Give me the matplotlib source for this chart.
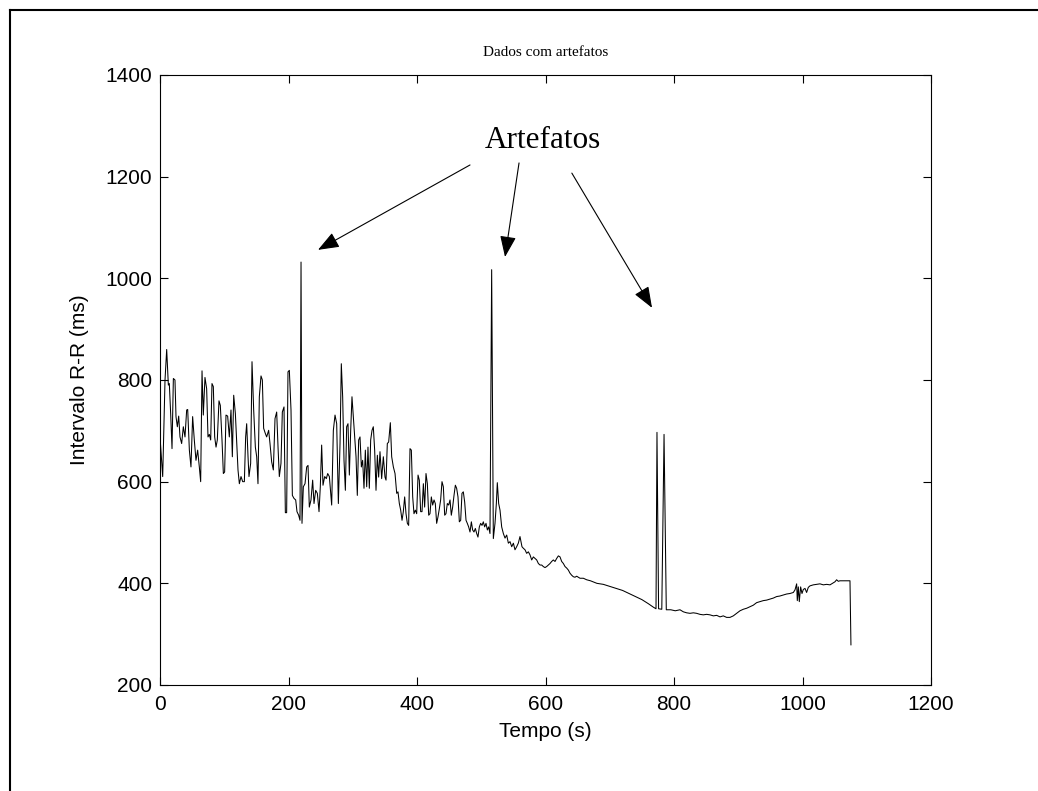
import numpy as np
import matplotlib
matplotlib.use('Agg')
import matplotlib.pyplot as plt
from matplotlib.lines import Line2D

plt.rcParams['font.family'] = ['Liberation Sans', 'DejaVu Sans']

# série R-R (tempo em s, intervalo em ms), lida por trechos
t_a = [0, 4.2, 7.8, 10.4, 13.0, 14.5, 16.6, 18.7, 20.8, 23.3, 24.9, 27.0, 29.1, 31.1, 33.7,
       36.3, 38.9, 41.5, 43.1, 45.7, 48.2, 50.8, 53.4, 56.0, 58.6, 61.2, 63.3, 65.4, 67.4,
       70.0, 72.6, 74.7, 76.8, 78.9, 80.9, 83.0, 85.1, 87.2, 89.2, 91.8, 93.9, 96.5, 98.6,
       100.6, 102.7, 105.3, 107.9, 110.5, 112.6, 114.7, 117.3, 119.3, 121.4, 123.5, 126.1,
       128.7, 131.3, 133.3, 134.9, 137.0, 138.5, 141.1, 143.2, 145.8, 148.4, 150.5, 152.5,
       154.6, 157.2, 159.3, 161.3, 163.9, 166.0, 169.1, 171.2, 173.8, 176.4, 179.0, 181.6,
       183.7, 185.7, 188.3, 190.4, 193.0, 195.1, 197.1, 199.2, 201.3, 203.9, 206.0, 208.6,
       211.2, 213.2, 215.8, 217.9, 219.5, 221.0, 223.1, 225.7, 228.3, 230.4, 232.4, 235.0,
       237.6, 239.7, 242.3, 244.9, 247.5, 249.5, 251.6, 253.7, 256.3, 258.9, 261.0, 263.6]
rr_a = [688, 610, 800, 860, 790, 793, 734, 665, 803, 800, 728, 708, 729, 688, 675,
        708, 688, 741, 742, 662, 629, 728, 682, 642, 662, 629, 600, 818, 731,
        805, 783, 688, 693, 682, 793, 787, 688, 668, 682, 759, 750, 682, 616,
        619, 731, 729, 688, 741, 649, 770, 734, 682, 623, 596, 610,
        600, 600, 688, 714, 649, 610, 636, 836, 741, 668, 649, 596,
        767, 808, 800, 705, 695, 688, 701, 675, 639, 623, 724, 737,
        668, 610, 636, 737, 747, 539, 539, 816, 819, 741, 573, 567,
        564, 541, 534, 524, 1032, 518, 590, 596, 629, 632, 550, 564,
        603, 557, 583, 577, 541, 590, 672, 593, 610, 606, 616, 610]

t_b = [267.2, 269.8, 272.4, 275.0, 277.6, 280.2, 282.2, 284.3, 286.4, 288.5, 290.5, 292.6,
       294.7, 296.8, 298.8, 300.9, 303.0, 305.1, 307.1, 309.2, 311.3, 313.4, 315.4, 317.5,
       319.6, 321.7, 323.7, 325.8, 327.9, 330.0, 332.0, 334.1, 336.2, 338.3, 340.3, 342.4,
       345.0, 347.6, 350.2, 351.8, 353.8, 355.9, 358.5, 360.6, 363.2, 365.8, 368.4, 370.4,
       372.5, 374.6, 376.7, 378.7, 380.8, 382.9, 385.0, 387.0, 389.1, 391.2, 393.3, 395.3,
       397.4, 399.5, 401.6, 403.6, 405.7, 407.8, 409.9, 411.9, 414.0, 416.1, 418.2, 420.2,
       422.3, 424.4, 426.5, 428.5, 430.6, 432.7, 434.8, 436.8, 438.9, 441.0, 443.1, 445.1,
       447.2, 449.3, 451.4, 453.4, 455.5, 457.6, 459.7, 461.7, 463.8, 465.9, 468.0, 470.0,
       472.1, 474.2, 476.3, 478.3, 480.4, 482.5, 484.6, 486.6, 488.7, 490.8, 492.9, 494.9,
       497.0, 499.1, 501.2, 503.2, 505.3, 507.4, 509.5, 511.5, 513.6, 516.2, 518.8, 521.4,
       523.5, 525.0, 527.1, 529.2]
rr_b = [554, 701, 731, 714, 557, 675, 832, 767, 642, 583, 708, 714,
        613, 701, 767, 728, 688, 649, 573, 682, 688, 629, 642, 587,
        662, 590, 668, 587, 682, 701, 708, 662, 583, 652, 609, 659,
        606, 649, 609, 603, 675, 678, 716, 649, 629, 616, 577, 580,
        557, 544, 524, 541, 570, 537, 518, 514, 665, 662, 570, 537,
        544, 537, 613, 603, 541, 541, 596, 550, 616, 596, 534, 537,
        570, 554, 564, 557, 518, 531, 547, 564, 600, 590, 534, 537,
        557, 554, 564, 534, 550, 573, 593, 587, 570, 521, 524, 577,
        580, 560, 524, 518, 511, 501, 521, 505, 501, 508, 498, 491,
        511, 518, 514, 521, 511, 518, 505, 511, 498, 1017, 488, 518,
        557, 598, 557, 544]

t_c = [531.8, 534.4, 537.0, 539.6, 542.2, 544.8, 547.4, 550.0, 552.5, 555.1, 557.7, 560.3,
       563.4, 565.5, 568.1, 570.7, 573.3, 575.9, 578.5, 581.1, 583.7, 586.3, 588.9, 591.5,
       594.1, 596.6, 599.2, 601.8, 604.4, 607.0, 609.6, 612.2, 614.8, 617.4, 620.0, 622.6,
       625.2, 627.8, 630.4, 633.0, 635.6, 638.1, 640.7, 643.3, 645.9, 648.5, 653.7, 658.9,
       664.1, 670, 680, 690, 700, 710, 720, 730, 740, 750, 760, 768, 772, 773.5, 776,
       781, 784.5, 788, 795, 802]
rr_c = [511, 498, 489, 495, 479, 482, 472, 479, 466, 472, 479, 492,
        472, 469, 466, 459, 462, 456, 446, 452, 449, 446, 439, 436,
        436, 433, 431, 433, 436, 439, 443, 446, 443, 449, 454, 452,
        443, 439, 433, 430, 426, 420, 416, 413, 412, 414, 410, 410,
        407, 405, 400, 398, 394, 390, 386, 380, 374, 368, 360, 353, 350, 697, 350,
        349, 693, 348, 348, 346]

t_d = [809.3, 814.5, 819.7, 824.9, 830.1, 835.2, 840.4, 845.6, 850.8, 856.0, 861.2, 866.4,
       871.6, 876.7, 881.9, 887.1, 892.3, 897.5, 902.7, 907.9, 913.1, 918.2, 923.4, 928.6,
       933.8, 939.0, 944.2, 949.4, 954.6, 959.8, 964.7, 970.1, 975.3, 980.5, 985.7, 988.3,
       990.9, 991.9, 993.5, 995.0, 997.1, 999.2, 1001.3, 1003.9, 1006.4, 1009.0, 1011.6,
       1016.8, 1022.0, 1027.2, 1032.4, 1037.6, 1042.8, 1048.0, 1050.5, 1053.1, 1055.7,
       1058.3, 1063.5, 1068.7, 1073.9, 1075.4]
rr_d = [348, 344, 342, 341, 342, 341, 339, 338, 339, 338, 336, 337,
        334, 336, 333, 333, 336, 341, 346, 349, 351, 354, 357, 362,
        364, 366, 367, 369, 371, 374, 375, 377, 379, 380, 382, 387,
        399, 366, 393, 364, 393, 380, 388, 390, 382, 392, 395,
        397, 398, 399, 397, 398, 397, 401, 403, 407, 404,
        405, 405, 405, 405, 279]

tempo = np.concatenate([t_a, t_b, t_c, t_d])
rr = np.concatenate([rr_a, rr_b, rr_c, rr_d])

# pontos indicados pelas setas (cabeça) e origem de cada seta
seta_ponta = [(245.9, 1056), (537, 1042), (765.8, 942)]
seta_origem = [(482.5, 1223), (558.8, 1227), (641, 1207)]

fig = plt.figure(figsize=(10.38, 7.91), dpi=100)
ax = fig.add_axes([160 / 1038, 1 - 685 / 791, 771 / 1038, 610 / 791])

ax.plot(tempo, rr, color='k', lw=0.75)

ax.set_xlim(0, 1200)
ax.set_ylim(200, 1400)
ax.set_xticks(np.arange(0, 1201, 200))
ax.set_yticks(np.arange(200, 1401, 200))
ax.tick_params(direction='in', top=True, right=True, length=6, width=0.8,
               labelsize=15)
ax.tick_params(axis='x', pad=7)
ax.tick_params(axis='y', pad=5.5)
for s in ax.spines.values():
    s.set_linewidth(0.8)

ax.set_xlabel('Tempo (s)', fontsize=15, labelpad=6)
ax.set_ylabel('Intervalo R-R (ms)', fontsize=15, labelpad=12)
ax.set_title('Dados com artefatos', fontsize=11, family='Liberation Serif', pad=14)

ax.text(596, 1272, 'Artefatos', fontsize=22.5, family='Liberation Serif',
        ha='center', va='center')
for ponta, origem in zip(seta_ponta, seta_origem):
    ax.annotate('', xy=ponta, xytext=origem,
                arrowprops=dict(arrowstyle='-|>,head_length=0.65,head_width=0.25',
                                mutation_scale=20, color='k', lw=0.8,
                                shrinkA=0, shrinkB=0))

# moldura da figura (esquerda e topo)
fig.add_artist(Line2D([9.5 / 1038, 9.5 / 1038], [0, 1 - 10 / 791],
                      transform=fig.transFigure, color='k', lw=1.5))
fig.add_artist(Line2D([9.5 / 1038, 1], [1 - 10 / 791, 1 - 10 / 791],
                      transform=fig.transFigure, color='k', lw=1.5))

fig.savefig('out.png', dpi=100)
